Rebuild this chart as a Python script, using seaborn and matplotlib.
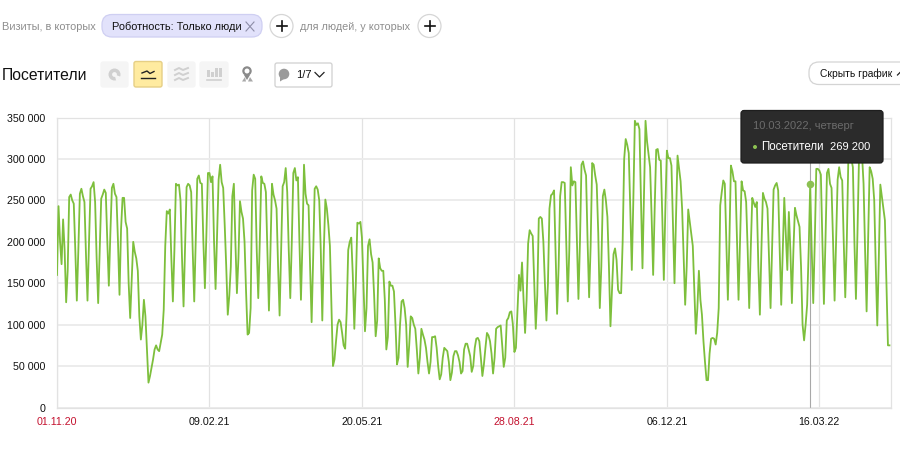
import pandas as pd
import matplotlib
matplotlib.use("Agg")
import matplotlib.pyplot as plt
import seaborn as sns
from matplotlib.patches import FancyBboxPatch, Circle, Rectangle, Wedge, Polygon

# daily visitors in thousands, one row per week (Sun .. Sat)
visitors_k = [
    160, 243, 200, 173, 227, 190, 127,
    165, 254, 257, 250, 246, 190, 129,
    190, 258, 264, 255, 248, 185, 129,
    200, 264, 267, 272, 248, 180, 126,
    190, 252, 257, 263, 259, 200, 147,
    210, 265, 270, 258, 254, 200, 136,
    215, 253, 253, 224, 216, 150, 108,
    155, 200, 188, 180, 165, 110, 82,
    100, 130, 110, 70, 30, 38, 48,
    58, 70, 75, 70, 68, 78, 88,
    118, 195, 237, 234, 239, 180, 128,
    190, 270, 268, 269, 250, 180, 122,
    195, 266, 270, 268, 260, 190, 128,
    200, 276, 280, 271, 270, 200, 144,
    210, 283, 283, 272, 279, 200, 143,
    210, 275, 293, 272, 265, 220, 170,
    112, 135, 170, 255, 270, 200, 138,
    180, 249, 236, 228, 200, 140, 88,
    90, 120, 262, 281, 276, 190, 132,
    200, 279, 271, 270, 260, 190, 117,
    190, 270, 257, 250, 240, 170, 111,
    190, 267, 272, 289, 260, 190, 132,
    200, 283, 289, 274, 278, 200, 130,
    200, 293, 258, 246, 244, 170, 103,
    180, 264, 267, 263, 250, 190, 105,
    190, 251, 240, 220, 195, 120, 50,
    58, 80, 100, 106, 103, 90, 75,
    71, 115, 190, 200, 205, 160, 95,
    150, 223, 222, 224, 205, 150, 92,
    120, 195, 203, 185, 175, 135, 86,
    105, 180, 168, 165, 165, 130, 70,
    85, 152, 147, 147, 140, 100, 52,
    60, 100, 128, 130, 120, 100, 49,
    75, 110, 108, 100, 95, 70, 41,
    60, 95, 88, 82, 72, 55, 41,
    55, 85, 85, 86, 72, 50, 34,
    40, 60, 72, 70, 68, 55, 33,
    42, 62, 68, 68, 63, 55, 41,
    44, 70, 77, 77, 70, 62, 43,
    50, 72, 83, 84, 80, 60, 38,
    52, 72, 90, 87, 80, 65, 41,
    60, 95, 97, 98, 99, 75, 49,
    60, 105, 108, 115, 116, 100, 67,
    72, 115, 160, 141, 175, 130, 90,
    130, 198, 214, 210, 207, 150, 95,
    135, 228, 230, 228, 200, 150, 105,
    150, 240, 256, 258, 262, 190, 113,
    170, 255, 272, 272, 271, 200, 128,
    190, 290, 268, 273, 272, 200, 131,
    200, 293, 297, 287, 280, 200, 133,
    195, 295, 293, 280, 269, 210, 120,
    170, 255, 263, 250, 230, 170, 98,
    140, 185, 192, 178, 142, 138, 138,
    200, 300, 324, 317, 307, 240, 166,
    250, 346, 341, 343, 336, 250, 168,
    260, 346, 321, 305, 290, 230, 160,
    240, 311, 312, 299, 298, 230, 154,
    240, 310, 301, 301, 292, 220, 150,
    230, 304, 289, 273, 240, 180, 124,
    170, 239, 224, 210, 195, 140, 89,
    120, 165, 130, 112, 80, 55, 33,
    33, 65, 83, 84, 83, 76, 90,
    120, 244, 260, 274, 270, 200, 130,
    200, 292, 285, 273, 273, 200, 130,
    200, 273, 262, 261, 248, 190, 120,
    190, 253, 247, 242, 248, 170, 112,
    190, 259, 252, 248, 240, 180, 120,
    190, 263, 268, 271, 262, 190, 124,
    190, 253, 210, 166, 236, 190, 126,
    190, 241, 232, 225, 218, 170, 100,
    81, 100, 124, 190, 269.2, 190, 126,
    200, 288, 288, 286, 281, 200, 125,
    200, 283, 288, 270, 265, 200, 129,
    200, 275, 290, 278, 274, 200, 133,
    200, 298, 305, 300, 290, 200, 131,
    210, 300, 305, 305, 270, 190, 116,
    200, 290, 285, 276, 250, 170, 99,
    180, 269, 255, 240, 226, 150, 75,
    75,
]
y_ticks = [0, 50000, 100000, 150000, 200000, 250000, 300000, 350000]
y_labels = ["0", "50 000", "100 000", "150 000", "200 000", "250 000", "300 000", "350 000"]
x_ticks = ["2020-11-01", "2021-02-09", "2021-05-20", "2021-08-28", "2021-12-06", "2022-03-16"]
x_labels = ["01.11.20", "09.02.21", "20.05.21", "28.08.21", "06.12.21", "16.03.22"]
red_labels = ["01.11.20", "28.08.21"]
hover_date = "2022-03-10"

GREEN = "#7dbf3c"
plt.rcParams['font.family'] = ['Liberation Sans', 'DejaVu Sans']

df = pd.DataFrame({
    'date': pd.date_range("2020-11-01", periods=len(visitors_k)),
    'visitors': [v * 1000 for v in visitors_k],
})

W, H = 900, 453
fig = plt.figure(figsize=(W / 100, H / 100), dpi=100)
ax = fig.add_axes([57 / W, (H - 407.5) / H, (891 - 57) / W, 290 / H])

sns.lineplot(data=df, x='date', y='visitors', color=GREEN, linewidth=1.3, ax=ax, zorder=3)

start = df['date'].iloc[0]
ax.set_xlim(start, start + pd.Timedelta(days=547))
ax.set_ylim(0, 350000)
ax.set_yticks(y_ticks, y_labels)
ax.set_xticks(pd.to_datetime(x_ticks), x_labels)
ax.tick_params(length=0, labelsize=7.7, labelcolor="#111111")
ax.tick_params(axis='y', pad=8.5)
ax.tick_params(axis='x', pad=7)
for lab in ax.get_xticklabels():
    if lab.get_text() in red_labels:
        lab.set_color("#c4122f")
ax.grid(axis='y', color="#ebebeb", linewidth=1.3)
ax.grid(axis='x', color="#e2e2e2", linewidth=0.9)
ax.set_axisbelow(True)
for s in ax.spines.values():
    s.set_color("#e2e2e2")
    s.set_linewidth(0.9)

# hovered day: thin line and a dot
hover = df[df['date'] == hover_date]
ax.axvline(hover['date'].iloc[0], color="#a8a8a8", linewidth=0.8, zorder=2)
sns.scatterplot(data=hover, x='date', y='visitors', color="#8cc152", s=30, linewidth=0, ax=ax, zorder=4)
ax.set_xlabel("")
ax.set_ylabel("")

# page controls and tooltip, drawn in pixels
ui = fig.add_axes([0, 0, 1, 1], zorder=10)
ui.set_xlim(0, W)
ui.set_ylim(H, 0)
ui.axis('off')
ui.patch.set_alpha(0)


def box(x0, y0, x1, y1, fc, ec, r=3, lw=0.9):
    ui.add_patch(FancyBboxPatch((x0 + r, y0 + r), x1 - x0 - 2 * r, y1 - y0 - 2 * r,
                                boxstyle=f"round,pad={r},rounding_size={r}", fc=fc, ec=ec, lw=lw))


def plus(cx, cy):
    ui.add_patch(Circle((cx, cy), 11.5, fc="white", ec="#d6d6d6", lw=0.9))
    ui.plot([cx - 5, cx + 5], [cy, cy], color="#111111", lw=1.2)
    ui.plot([cx, cx], [cy - 5, cy + 5], color="#111111", lw=1.2)


ui.text(2, 26.5, "Визиты, в которых", fontsize=7.9, color="#8e8e8e", va='center')
box(102, 14.5, 262, 37, "#e2e2fb", "#cfcff2", r=10)
ui.text(112, 27, "Роботность: Только люди", fontsize=7.9, color="#111111", va='center')
ui.plot([246, 254], [22, 31], color="#8e8ea8", lw=0.8)
ui.plot([246, 254], [31, 22], color="#8e8ea8", lw=0.8)
plus(281.5, 26)
ui.text(300, 26.5, "для людей, у которых", fontsize=7.85, color="#8e8e8e", va='center')
plus(429.5, 26)

ui.text(2, 75, "Посетители", fontsize=11.3, color="#111111", va='center')

# chart type buttons
box(101, 62, 128, 87, "#f5f5f5", "#f5f5f5", r=2)
ui.add_patch(Circle((114.5, 74.5), 6, fc="#d0d0d0", ec="none"))
ui.add_patch(Circle((114.5, 74.5), 2.4, fc="#f5f5f5", ec="none"))
ui.add_patch(Wedge((114.5, 74.5), 6.5, 20, 75, fc="#f5f5f5", ec="none"))
box(134, 61.5, 162, 87, "#ffeba0", "#e6cf85", r=2, lw=1)
ui.plot([142, 147, 150, 154], [73, 71, 73.5, 71.5], color="#222222", lw=1)
ui.plot([141, 155], [78, 78], color="#222222", lw=1)
box(168, 62, 195, 87, "#f5f5f5", "#f5f5f5", r=2)
for dy in (69, 74, 79):
    ui.plot([175, 179, 183, 188], [dy + 1, dy - 1, dy + 1, dy - 1], color="#d0d0d0", lw=1.4)
box(200, 62, 228, 87, "#f5f5f5", "#f5f5f5", r=2)
for bx, top in zip((208, 212, 216, 220), (70, 72, 68, 68)):
    ui.add_patch(Rectangle((bx - 1, top), 2.6, 77 - top, fc="#d0d0d0", ec="none"))
ui.plot([207, 221], [80, 80], color="#d0d0d0", lw=1.2)
# map pin
ui.add_patch(Circle((247, 71), 3.6, fc="white", ec="#8a8a8a", lw=1.6))
ui.add_patch(Polygon([[244, 75], [250, 75], [247, 80]], fc="#8a8a8a", ec="none"))
ui.add_patch(Polygon([[242, 81.5], [245, 77], [246, 81.5]], fc="#a8a8a8", ec="none"))
ui.add_patch(Polygon([[248, 81.5], [250, 77], [253, 81.5]], fc="#a8a8a8", ec="none"))

# notes button
box(275, 63, 332, 87, "white", "#d0d0d0", r=2)
ui.add_patch(Circle((284, 74), 5.3, fc="#9a9a9a", ec="none"))
ui.add_patch(Polygon([[280, 77], [284, 79], [280, 81.5]], fc="#9a9a9a", ec="none"))
ui.text(296, 74.5, "1/7", fontsize=8, color="#111111", va='center')
ui.plot([315, 319.5, 324], [72.5, 77, 72.5], color="#222222", lw=0.9)

box(809, 62, 925, 84.5, "white", "#d4d4d4", r=10)
ui.text(820, 73.5, "Скрыть график", fontsize=7.4, color="#111111", va='center')
ui.plot([897.5, 900], [75, 72.5], color="#222222", lw=0.9)

# tooltip
box(741, 110.5, 883, 163, "#2b2b2b", "#1e1e1e", r=3)
ui.text(753, 126, "10.03.2022, четверг", fontsize=8, color="#6b6b6b", va='center')
ui.add_patch(Circle((755, 147), 2, fc="#8cc152", ec="none"))
ui.text(761.5, 146.5, "Посетители", fontsize=8.3, color="white", va='center')
ui.text(870.5, 146.5, "269 200", fontsize=8, color="white", va='center', ha='right')

fig.savefig("out.png", dpi=100)
